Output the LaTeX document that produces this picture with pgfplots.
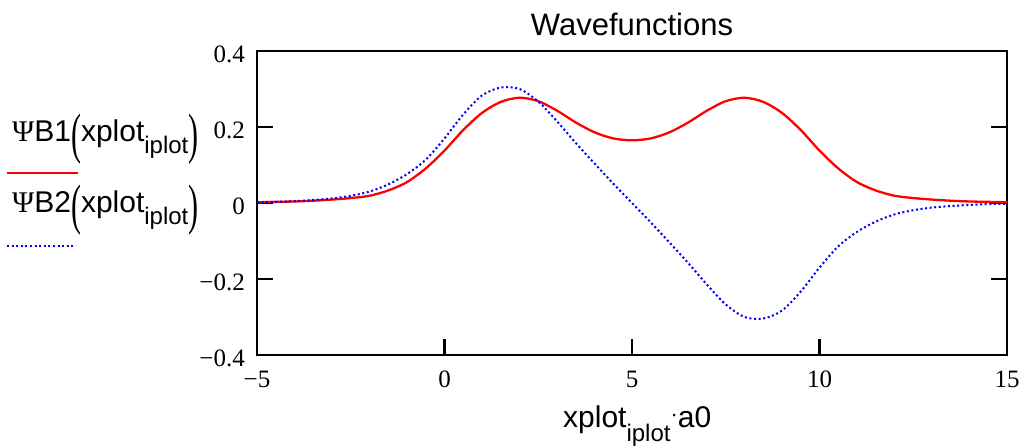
\documentclass[border=0pt]{standalone}
\usepackage{fontspec}
\setmainfont{Liberation Serif}
\newfontfamily\arial{Liberation Sans}
\usepackage{pgfplots}
\pgfplotsset{compat=1.18}
\definecolor{pblue}{RGB}{0,0,255}
\definecolor{pred}{RGB}{255,0,0}
\newcommand{\bigparen}[1]{\raisebox{-11pt}{\scalebox{1}[1.85]{\rmfamily #1}}}
\newcommand{\tl}[1]{{\fontsize{25}{25}\selectfont\rmfamily #1}}
\begin{document}
\begin{tikzpicture}[x=1pt,y=1pt]
\useasboundingbox (0,0) rectangle (1026,446);
\begin{axis}[
  at={(257pt,91pt)}, anchor=south west,
  scale only axis, width=750pt, height=304pt,
  xmin=-5, xmax=15, ymin=-0.4, ymax=0.4,
  axis line style={line width=2.5pt, black},
  tick style={line width=2.5pt, black},
  major tick length=16pt,
  tick align=inside,
  xtick pos=left, ytick pos=both,
  xtick={-5,0,5,10,15},
  xticklabels={\tl{−5},\tl{0},\tl{5},\tl{10},\tl{15}},
  ytick={-0.4,-0.2,0,0.2,0.4},
  yticklabels={\tl{−0.4},\tl{−0.2},\tl{0},\tl{0.2},\tl{0.4}},
  tick label style={inner sep=0pt},
  xticklabel shift=16pt,
  yticklabel shift=12pt,
  yticklabel style={yshift=-3pt},
]
\addplot[pred, line width=2.3pt, smooth] coordinates {
(-5,0.002)(-4.5,0.003)(-4,0.004)(-3.5,0.006)(-3,0.009)(-2.5,0.013)(-2,0.019)(-1.5,0.033)(-1,0.055)(-0.5,0.091)
(0,0.138)(0.5,0.192)(1,0.237)(1.5,0.266)(2,0.277)(2.5,0.268)(3,0.243)(3.5,0.212)(4,0.186)(4.5,0.170)
(5,0.165)(5.5,0.170)(6,0.186)(6.5,0.212)(7,0.243)(7.5,0.268)(8,0.277)(8.5,0.266)(9,0.237)(9.5,0.192)
(10,0.138)(10.5,0.091)(11,0.055)(11.5,0.033)(12,0.019)(12.5,0.013)(13,0.009)(13.5,0.006)(14,0.004)(14.5,0.003)(15,0.002)
};
\addplot[pblue, line width=2pt, dash pattern=on 2pt off 2.6pt, smooth] coordinates {
(-5,0.002)(-4.5,0.003)(-4,0.005)(-3.5,0.008)(-3,0.012)(-2.5,0.019)(-2,0.030)(-1.5,0.049)(-1,0.076)(-0.5,0.114)
(0,0.170)(0.5,0.233)(1,0.283)(1.5,0.304)(2,0.300)(2.5,0.267)(3,0.215)(3.5,0.158)(4,0.104)(4.5,0.051)
(5,0)(5.5,-0.051)(6,-0.104)(6.5,-0.158)(7,-0.215)(7.5,-0.267)(8,-0.300)(8.5,-0.304)(9,-0.283)(9.5,-0.233)
(10,-0.170)(10.5,-0.114)(11,-0.076)(11.5,-0.049)(12,-0.030)(12.5,-0.019)(13,-0.012)(13.5,-0.008)(14,-0.005)(14.5,-0.003)(15,-0.002)
};
\end{axis}
% title
\node[anchor=base, inner sep=0pt] at (632,410) {\arial\fontsize{31}{31}\selectfont Wavefunctions};
% y label / legend
\node[anchor=base west, inner sep=0pt] at (12,304.3) {\fontsize{30}{30}\selectfont{\rmfamily Ψ}\arial B1\bigparen{(}xplot\raisebox{-12pt}{\fontsize{24}{24}\selectfont iplot}\bigparen{)}};
\draw[pred, line width=2.3pt] (7,273) -- (78,273);
\node[anchor=base west, inner sep=0pt] at (12,233.3) {\fontsize{30}{30}\selectfont{\rmfamily Ψ}\arial B2\bigparen{(}xplot\raisebox{-12pt}{\fontsize{24}{24}\selectfont iplot}\bigparen{)}};
\draw[pblue, line width=2pt, dash pattern=on 2pt off 2.6pt] (7,200.3) -- (76,200.3);
% x label
\node[anchor=base west, inner sep=0pt] at (563,18) {\arial\fontsize{30}{30}\selectfont xplot\raisebox{-14pt}{\fontsize{24}{24}\selectfont iplot}\raisebox{6pt}{\fontsize{22}{22}\selectfont ·}a0};
\end{tikzpicture}
\end{document}
